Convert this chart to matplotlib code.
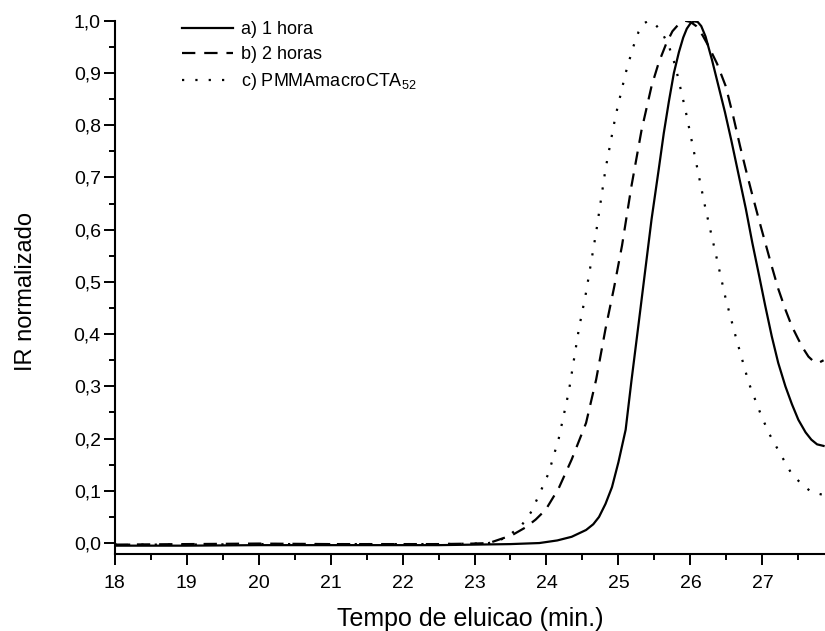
import matplotlib
matplotlib.use('Agg')
import matplotlib.pyplot as plt
from matplotlib.ticker import MultipleLocator, FuncFormatter

plt.rcParams['font.family'] = ['Liberation Sans', 'DejaVu Sans']
plt.rcParams['mathtext.fontset'] = 'custom'
plt.rcParams['mathtext.rm'] = 'Liberation Sans'

# a) 1 hora
t_a = [18.0, 19.0, 20.0, 21.0, 22.0, 22.5, 23.0, 23.5, 23.9, 24.15, 24.35, 24.55, 24.65, 24.73,
       24.82, 24.91, 25.00, 25.10, 25.18, 25.28, 25.37, 25.46, 25.56, 25.63, 25.70, 25.77, 25.84,
       25.90, 25.95, 26.00, 26.05, 26.10, 26.15, 26.21, 26.30, 26.39, 26.48, 26.57, 26.67, 26.77,
       26.86, 26.95, 27.04, 27.13, 27.22, 27.32, 27.41, 27.50, 27.60, 27.68, 27.76, 27.85]
ir_a = [-0.005, -0.005, -0.004, -0.004, -0.004, -0.004, -0.003, -0.002, 0.0, 0.005, 0.012, 0.025, 0.036, 0.05,
        0.075, 0.107, 0.155, 0.217, 0.31, 0.42, 0.52, 0.62, 0.716, 0.785, 0.845, 0.90, 0.94,
        0.968, 0.985, 0.995, 0.999, 0.998, 0.99, 0.97, 0.925, 0.875, 0.825, 0.77, 0.705, 0.64,
        0.575, 0.515, 0.454, 0.396, 0.345, 0.300, 0.266, 0.236, 0.212, 0.198, 0.189, 0.186]

# b) 2 horas
t_b = [18.0, 19.0, 20.0, 21.0, 22.0, 22.5, 23.0, 23.2, 23.52, 23.71, 23.85, 23.99, 24.17, 24.35,
       24.55, 24.69, 24.82, 24.94, 25.05, 25.18, 25.32, 25.46, 25.56, 25.66, 25.75, 25.84, 25.93,
       26.00, 26.08, 26.17, 26.25, 26.37, 26.49, 26.59, 26.69, 26.77, 26.85, 26.95, 27.04, 27.13,
       27.22, 27.32, 27.41, 27.50, 27.57, 27.64, 27.71, 27.78, 27.85]
ir_b = [-0.003, -0.002, -0.001, -0.002, -0.002, -0.002, -0.001, 0.0, 0.015, 0.03, 0.045, 0.064, 0.105, 0.16,
        0.23, 0.313, 0.41, 0.49, 0.57, 0.683, 0.79, 0.875, 0.92, 0.955, 0.98, 0.994, 1.0,
        0.998, 0.99, 0.972, 0.952, 0.918, 0.875, 0.82, 0.76, 0.715, 0.672, 0.62, 0.575, 0.53,
        0.487, 0.447, 0.415, 0.39, 0.372, 0.357, 0.348, 0.345, 0.35]

# c) PMMAmacroCTA52
t_c = [18.0, 19.0, 20.0, 21.0, 22.0, 22.5, 23.0, 23.2, 23.44, 23.66, 23.78, 23.89, 24.03, 24.17,
       24.31, 24.45, 24.55, 24.69, 24.82, 24.96, 25.10, 25.20, 25.28, 25.35, 25.42, 25.50, 25.60,
       25.70, 25.79, 25.93, 26.07, 26.21, 26.35, 26.49, 26.63, 26.81, 26.99, 27.10, 27.22, 27.40,
       27.55, 27.68, 27.85]
ir_c = [-0.003, -0.003, -0.002, -0.002, -0.002, -0.002, -0.001, 0.0, 0.01, 0.035, 0.058, 0.09, 0.134, 0.20,
        0.29, 0.41, 0.48, 0.595, 0.716, 0.818, 0.90, 0.948, 0.979, 0.995, 1.0, 0.995, 0.979,
        0.952, 0.914, 0.83, 0.735, 0.64, 0.555, 0.468, 0.395, 0.307, 0.242, 0.208, 0.178, 0.134,
        0.112, 0.098, 0.092]

labels = ['a) 1 hora', 'b) 2 horas', r'c) PMMAmacroCTA$_{\mathregular{52}}$']

fig = plt.figure(figsize=(8.25, 6.31), dpi=100)
ax = fig.add_axes([0.139, 0.122, 0.861, 0.845])

ax.plot(t_a, ir_a, color='black', lw=1.6, ls='-', label=labels[0])
ax.plot(t_b, ir_b, color='black', lw=1.6, ls=(0, (6, 4)), label=labels[1])
ax.plot(t_c, ir_c, color='black', lw=1.6, ls=(0, (1, 5)), label=labels[2])

ax.set_xlim(18, 27.87)
ax.set_ylim(-0.021, 1.0)
ax.spines['top'].set_visible(False)
ax.spines['right'].set_visible(False)
for s in ['left', 'bottom']:
    ax.spines[s].set_linewidth(1.5)

ax.xaxis.set_major_locator(MultipleLocator(1))
ax.xaxis.set_minor_locator(MultipleLocator(0.5))
ax.yaxis.set_major_locator(MultipleLocator(0.1))
ax.yaxis.set_minor_locator(MultipleLocator(0.05))
ax.yaxis.set_major_formatter(FuncFormatter(lambda v, p: f'{v:.1f}'.replace('.', ',')))
ax.tick_params(which='major', direction='out', length=8, width=1.4, labelsize=14)
ax.tick_params(axis='y', which='major', pad=2)
ax.tick_params(axis='x', which='major', pad=7)
ax.tick_params(which='minor', direction='out', length=4.5, width=1.4)

ax.set_xlabel('Tempo de eluicao (min.)', fontsize=18)
ax.set_ylabel('IR normalizado', fontsize=17)
ax.xaxis.set_label_coords(0.5, -0.1)
ax.yaxis.set_label_coords(-0.11, 0.493)

ax.legend(loc='upper left', bbox_to_anchor=(0.072, 1.03), frameon=False, fontsize=13,
          handlelength=2.8, handletextpad=0.45, labelspacing=0.45)

fig.savefig('out.png', dpi=100)
